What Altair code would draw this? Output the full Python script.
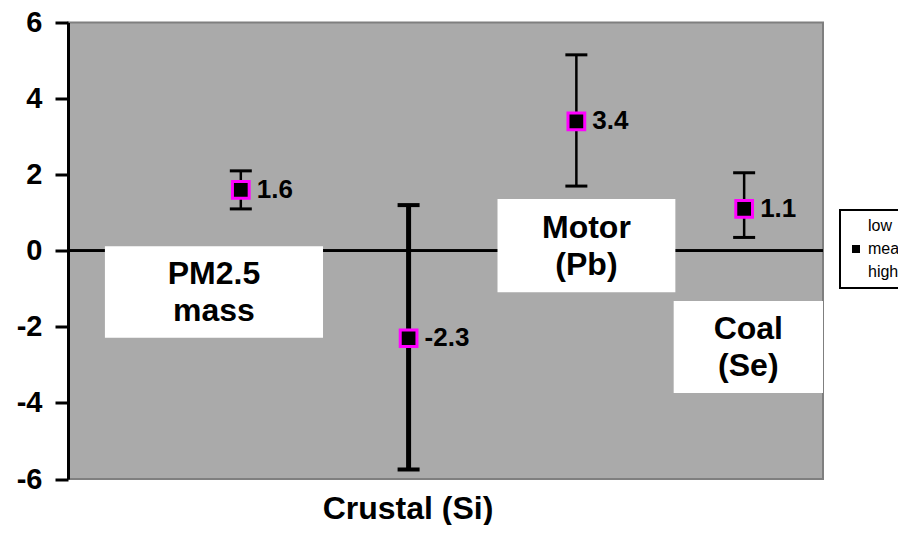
import altair as alt
import pandas as pd

# --- chart values ---
categories = ["PM2.5 mass", "Crustal (Si)", "Motor (Pb)", "Coal (Se)"]
position = [1, 2, 3, 4]
mean_vals = [1.6, -2.3, 3.4, 1.1]
low_vals = [1.1, -5.75, 1.7, 0.35]
high_vals = [2.1, 1.2, 5.15, 2.05]
y_ticks = [-6, -4, -2, 0, 2, 4, 6]
series_names = ["low", "mean", "high"]

# --- annotation boxes (data units) ---
box_text = ["PM2.5\nmass", "Motor\n(Pb)", "Coal\n(Se)"]
box_x1 = [0.19, 2.53, 3.58]
box_x2 = [1.49, 3.59, 4.47]
box_y1 = [0.12, 1.36, -1.32]
box_y2 = [-2.29, -1.09, -3.74]

df = pd.DataFrame({"cat": categories, "pos": position, "mean": mean_vals,
                   "low": low_vals, "high": high_vals})
boxes = pd.DataFrame({"text": box_text, "x1": box_x1, "x2": box_x2,
                      "y1": box_y1, "y2": box_y2})
boxes["xc"] = (boxes["x1"] + boxes["x2"]) / 2
boxes["yc"] = (boxes["y1"] + boxes["y2"]) / 2

FONT = "Arial, Liberation Sans, sans-serif"

xscale = alt.Scale(domain=[-0.03, 4.47], nice=False, zero=False)
yscale = alt.Scale(domain=[-6, 6], nice=False)

x_enc = alt.X("pos:Q", scale=xscale, axis=alt.Axis(
    labels=False, ticks=False, domain=False, grid=False,
    title="Crustal (Si)", titleFont=FONT, titleFontSize=32, titleFontWeight="bold",
    titleColor="black", titleX=339.5, titleY=39, titleAlign="center",
    titleBaseline="alphabetic"))

y_axis = alt.Axis(values=y_ticks, title=None, labelFont=FONT, labelFontSize=29,
                  labelFontWeight="bold", labelColor="black", labelPadding=13,
                  labelFlush=False, labelOverlap=False,
                  labelExpr="toString(datum.value)",
                  tickSize=13, tickWidth=3, tickColor="black",
                  domainColor="black", domainWidth=3,
                  gridColor="black", gridDash=[3, 3], gridWidth=2,
                  gridOpacity={"condition": {"test": "abs(datum.value) == 6 || datum.value == 0", "value": 0}, "value": 1})

base = alt.Chart(df)

zero = base.mark_rule(color="black", strokeWidth=2.5).encode(
    y=alt.datum(0, scale=yscale, axis=y_axis))

box_rect = alt.Chart(boxes).mark_rect(fill="white").encode(
    x=alt.X("x1:Q", scale=xscale), x2="x2", y=alt.Y("y1:Q", scale=yscale), y2="y2")
box_lbl = alt.Chart(boxes).mark_text(
    font=FONT, fontSize=32, fontWeight="bold", color="black", lineBreak="\n",
    lineHeight=37, align="center", baseline="middle", dy=-18).encode(
    x=alt.X("xc:Q", scale=xscale), y=alt.Y("yc:Q", scale=yscale), text="text:N")

sw = alt.condition(alt.datum.cat == "Crustal (Si)", alt.value(5), alt.value(2.5))
cw = alt.condition(alt.datum.cat == "Crustal (Si)", alt.value(4), alt.value(3))

bars = base.mark_rule(color="black").encode(
    x=x_enc, y=alt.Y("low:Q", scale=yscale, axis=y_axis), y2="high:Q", strokeWidth=sw)
cap_lo = base.mark_rule(color="black", xOffset=-11, x2Offset=11).encode(
    x=alt.X("pos:Q", scale=xscale), x2="pos", y=alt.Y("low:Q", scale=yscale), strokeWidth=cw)
cap_hi = base.mark_rule(color="black", xOffset=-11, x2Offset=11).encode(
    x=alt.X("pos:Q", scale=xscale), x2="pos", y=alt.Y("high:Q", scale=yscale), strokeWidth=cw)

points = base.transform_fold(series_names, as_=["series", "val"]).mark_point(
    filled=True, fill="black", stroke="#FF00FF", strokeWidth=3, size=280, opacity=1).encode(
    x=alt.X("pos:Q", scale=xscale),
    y=alt.Y("val:Q", scale=yscale),
    shape=alt.Shape("series:N",
                    scale=alt.Scale(domain=series_names, range=["M0,0", "square", "M0,0"]),
                    legend=alt.Legend(title=None, orient="none", legendX=772, legendY=187.5,
                                      labelFont=FONT, labelFontSize=16, labelColor="black",
                                      symbolSize=64, symbolFillColor="black",
                                      symbolStrokeColor="#FF00FF", symbolStrokeWidth=2.5,
                                      symbolOpacity=1, labelOffset=4, rowPadding=6,
                                      padding=8, fillColor="white", strokeColor="black")))

vals = base.transform_calculate(lbl="toString(datum.mean)").mark_text(
    font=FONT, fontSize=26, fontWeight="bold", color="black",
    align="left", baseline="middle", dx=16).encode(
    x=alt.X("pos:Q", scale=xscale), y=alt.Y("mean:Q", scale=yscale),
    text="lbl:N")

chart = alt.layer(zero, box_rect, box_lbl, bars, cap_lo, cap_hi, points, vals).properties(
    width=755, height=456.5,
    autosize=alt.AutoSizeParams(type="none"),
    padding={"left": 60, "top": 14.5, "right": 75, "bottom": 46},
    background="white",
).configure_view(fill="#AAAAAA", stroke="#7F7F7F", strokeWidth=2).configure_legend(
    strokeWidth=2)

chart.save("out.html", embed_options={"renderer": "svg", "actions": False})
